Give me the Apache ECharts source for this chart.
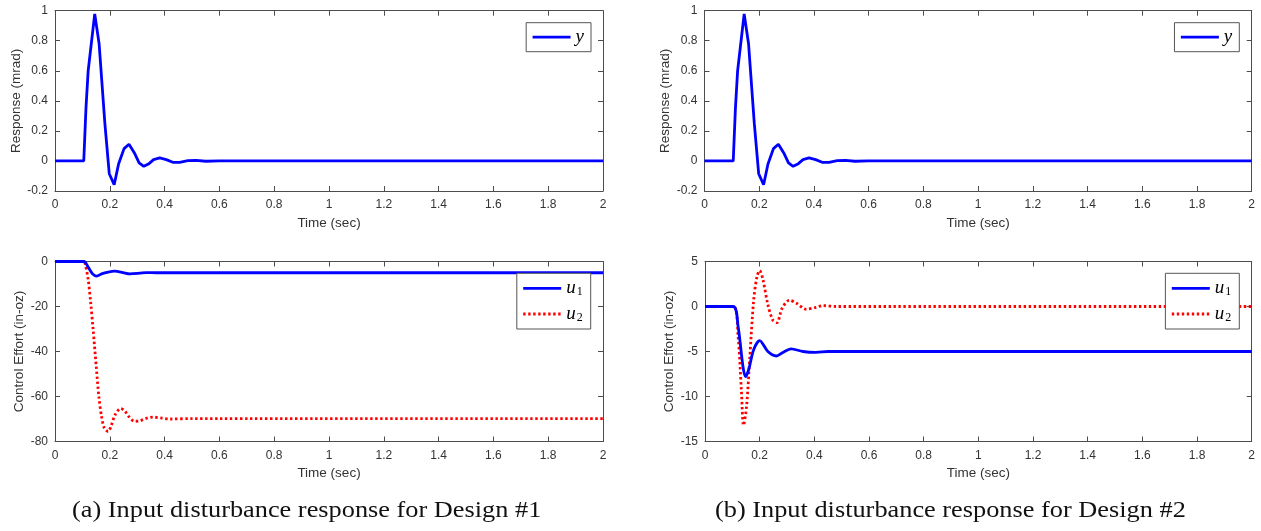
<!DOCTYPE html>
<html>
<head>
<meta charset="utf-8">
<script src="https://cdn.jsdelivr.net/npm/echarts@6/dist/echarts.min.js"></script>
<style>html,body{margin:0;padding:0;background:#fff}#c{width:1261px;height:531px}</style>
</head>
<body>
<div id="c"></div>
<script>
// ---- data ----
const xTicks = [0,0.2,0.4,0.6,0.8,1,1.2,1.4,1.6,1.8,2];
const respT = [0,0.105,0.113,0.121,0.145,0.161,0.182,0.198,0.216,0.232,0.252,0.270,0.291,0.307,0.324,0.343,0.36,0.382,0.406,0.43,0.455,0.485,0.515,0.55,0.6,2];
const respY = [0,0,0.35,0.60,0.978,0.78,0.25,-0.085,-0.158,-0.02,0.082,0.111,0.049,-0.013,-0.036,-0.018,0.009,0.02,0.009,-0.009,-0.009,0.002,0.004,-0.002,0,0];

const a_u1T = [0,0.105,0.121,0.137,0.152,0.17,0.194,0.218,0.248,0.273,0.309,0.333,0.37,2];
const a_u1  = [0,0,-2.5,-5.5,-6.5,-5.5,-4.7,-4.3,-4.9,-5.5,-5.2,-4.9,-5.0,-5.0];
const a_u2T = [0,0.105,0.11,0.121,0.13,0.139,0.15,0.16,0.17,0.18,0.194,0.205,0.22,0.24,0.255,0.27,0.29,0.31,0.333,0.36,0.39,0.42,0.5,2];
const a_u2  = [0,0,-1,-8,-18,-30,-46,-60,-69,-74,-75.6,-73,-68,-65.3,-66.5,-69,-71,-70.8,-69.7,-69.2,-69.6,-70,-69.8,-69.8];

const b_u1T = [0,0.103,0.121,0.139,0.148,0.16,0.178,0.2,0.23,0.261,0.285,0.315,0.358,0.406,0.45,2];
const b_u1  = [0,0,-2.2,-6.7,-7.8,-7.0,-4.8,-3.8,-5.0,-5.5,-5.1,-4.7,-5.0,-5.1,-5.0,-5.0];
const b_u2T = [0,0.103,0.121,0.133,0.141,0.152,0.164,0.178,0.19,0.2,0.212,0.23,0.248,0.263,0.282,0.309,0.333,0.37,0.406,0.43,0.48,2];
const b_u2  = [0,0,-3.3,-9.3,-13.2,-11.1,-5.6,0.7,3.3,4.0,3.0,0.2,-1.5,-1.8,-0.2,0.7,0.4,-0.3,-0.1,0.1,0,0];

const captions = ['(a) Input disturbance response for Design #1', '(b) Input disturbance response for Design #2'];

// ---- helpers ----
const zip = (t, v) => t.map((x, i) => [x, v[i]]);
const AX = '#4d4d4d', TXT = '#333';
const SANS = 'Liberation Sans, Arial, Helvetica, sans-serif';
const grids = [
  {left: 55,  top: 10.7,  width: 548,   height: 180.3},
  {left: 704.5, top: 10.7, width: 547.2, height: 180.3},
  {left: 55,  top: 261.5, width: 548,   height: 180},
  {left: 705, top: 261.5, width: 546.7, height: 180}
];
const yCfg = [
  {min: -0.2, max: 1, interval: 0.2, name: 'Response (mrad)', gap: 31},
  {min: -0.2, max: 1, interval: 0.2, name: 'Response (mrad)', gap: 32},
  {min: -80, max: 0, interval: 20, name: 'Control Effort (in-oz)', gap: 27.5},
  {min: -15, max: 5, interval: 5, name: 'Control Effort (in-oz)', gap: 28.5}
];
const xAxes = [], yAxes = [];
grids.forEach((g, i) => {
  xAxes.push({
    type: 'value', gridIndex: i, min: 0, max: 2, interval: 0.2, position: 'bottom',
    name: 'Time (sec)', nameLocation: 'middle', nameGap: 25,
    nameTextStyle: {color: TXT, fontSize: 13.5, fontFamily: SANS},
    axisLine: {show: true, onZero: false, lineStyle: {color: AX, width: 1}},
    axisTick: {show: true, inside: true, length: 5, lineStyle: {color: AX}},
    axisLabel: {color: TXT, fontSize: 12, fontFamily: SANS, margin: 8,
      formatter: v => String(Math.round(v * 10) / 10)},
    splitLine: {show: false}
  });
  xAxes.push({
    type: 'value', gridIndex: i, min: 0, max: 2, interval: 0.2, position: 'top',
    axisLine: {show: true, onZero: false, lineStyle: {color: AX, width: 1}},
    axisTick: {show: true, inside: true, length: 5, lineStyle: {color: AX}},
    axisLabel: {show: false}, splitLine: {show: false}
  });
  const c = yCfg[i];
  yAxes.push({
    type: 'value', gridIndex: i, min: c.min, max: c.max, interval: c.interval, position: 'left',
    name: c.name, nameLocation: 'middle', nameGap: c.gap,
    nameTextStyle: {color: TXT, fontSize: 13.5, fontFamily: SANS},
    axisLine: {show: true, onZero: false, lineStyle: {color: AX, width: 1}},
    axisTick: {show: true, inside: true, length: 5, lineStyle: {color: AX}},
    axisLabel: {color: TXT, fontSize: 12, fontFamily: SANS, margin: 7,
      formatter: v => String(Math.round(v * 10) / 10)},
    splitLine: {show: false}
  });
  yAxes.push({
    type: 'value', gridIndex: i, min: c.min, max: c.max, interval: c.interval, position: 'right',
    axisLine: {show: true, onZero: false, lineStyle: {color: AX, width: 1}},
    axisTick: {show: true, inside: true, length: 5, lineStyle: {color: AX}},
    axisLabel: {show: false}, splitLine: {show: false}
  });
});

const blue = () => ({color: '#0000ff', width: 2.8, type: 'solid'});
const red = {color: '#ff0000', width: 2.8, type: [2.4, 2.6], cap: 'butt'};
const mk = (name, gi, data, ls, smooth) => ({
  type: 'line', name, xAxisIndex: gi * 2, yAxisIndex: gi * 2, data, showSymbol: false, symbol: 'none',
  smooth: smooth, lineStyle: ls, itemStyle: {color: ls.color}, animation: false, z: name === 'u1' ? 3 : 2
});
const series = [
  mk('y', 0, zip(respT, respY), blue(), false),
  mk('y', 1, zip(respT, respY), blue(), false),
  mk('u2', 2, zip(a_u2T, a_u2), red, 0.3),
  mk('u1', 2, zip(a_u1T, a_u1), blue(), 0.3),
  mk('u2', 3, zip(b_u2T, b_u2), red, 0.3),
  mk('u1', 3, zip(b_u1T, b_u1), blue(), 0.3)
];

const legRich = {
  i: {fontFamily: 'Liberation Serif, serif', fontStyle: 'italic', fontSize: 19, color: '#000', lineHeight: 20},
  s: {fontFamily: 'Liberation Serif, serif', fontSize: 12, color: '#000', lineHeight: 20, padding: [7, 0, 0, 1]}
};
const legFmt = n => n === 'y' ? '{i|y}' : '{i|u}{s|' + n.slice(1) + '}';
const mkLegend = (data, top, right, pad) => ({
  data, top, right, orient: 'vertical', padding: pad, itemGap: 5.7,
  itemWidth: 38, itemHeight: 14, backgroundColor: '#fff',
  borderColor: '#555', borderWidth: 1, selectedMode: false,
  itemStyle: {opacity: 0}, lineStyle: {width: 2.8},
  formatter: legFmt, textStyle: {rich: legRich, lineHeight: 20}
});
const legends = [
  mkLegend(['y'], 22.7, 670, [4.5, 7, 4.5, 5]),
  mkLegend(['y'], 22.7, 21.7, [4.5, 7, 4.5, 5]),
  mkLegend(['u1', 'u2'], 273.3, 670.3, [5, 8, 5, 5]),
  mkLegend(['u1', 'u2'], 273.3, 21.7, [5, 8, 5, 5])
];

const chart = echarts.init(document.getElementById('c'), null, {renderer: 'canvas'});
chart.setOption({
  animation: false,
  backgroundColor: '#fff',
  grid: grids.map(g => Object.assign({containLabel: false}, g)),
  xAxis: xAxes, yAxis: yAxes, series, legend: legends,
  graphic: [
    {type: 'text', x: 72, y: 500, scaleX: 1.17, style: {text: captions[0], fill: '#111', font: '22.5px "Liberation Serif", serif'}},
    {type: 'text', x: 715, y: 500, scaleX: 1.17, style: {text: captions[1], fill: '#111', font: '22.5px "Liberation Serif", serif'}}
  ]
});
</script>
</body>
</html>
